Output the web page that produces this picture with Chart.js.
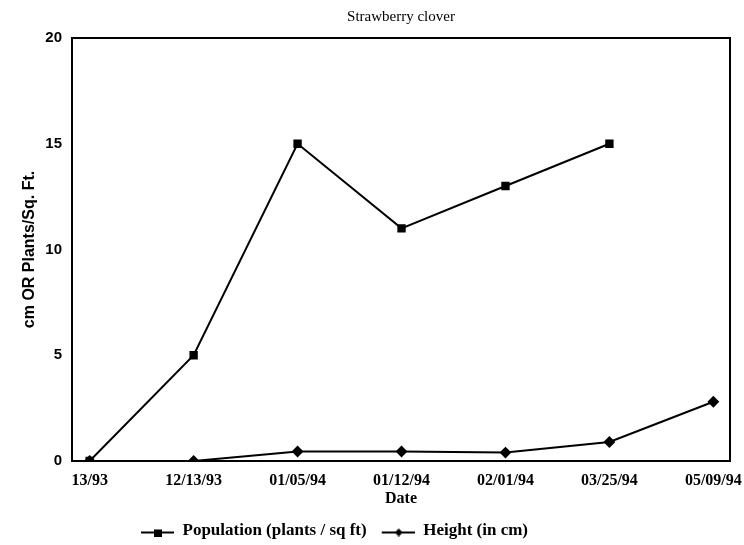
<!DOCTYPE html>
<html>
<head>
<meta charset="utf-8">
<script src="https://cdn.jsdelivr.net/npm/chart.js@4.4.0/dist/chart.umd.min.js"></script>
<style>
html,body{margin:0;padding:0;background:#fff;}
#wrap{width:744px;height:545px;}
</style>
</head>
<body>
<div id="wrap"><canvas id="c" width="744" height="545"></canvas></div>
<script>
const dateLabels = ["13/93", "12/13/93", "01/05/94", "01/12/94", "02/01/94", "03/25/94", "05/09/94"];
const population = [0, 5, 15, 11, 13, 15, null];
const height = [0, 0, 0.45, 0.45, 0.4, 0.9, 2.8];
const yTicks = [0, 5, 10, 15, 20];

function legendIcon(kind) {
  const c = document.createElement('canvas');
  c.width = 40; c.height = 12;
  const g = c.getContext('2d');
  g.strokeStyle = '#000'; g.fillStyle = '#000';
  g.lineWidth = 2;
  g.beginPath(); g.moveTo(7, 8); g.lineTo(40, 8); g.stroke();
  if (kind === 'rect') { g.fillRect(20, 5, 8, 7); }
  else { g.beginPath(); g.moveTo(24, 4); g.lineTo(28, 8); g.lineTo(24, 12); g.lineTo(20, 8); g.closePath(); g.fill(); }
  return c;
}

const boxPlugin = {
  id: 'box',
  afterLayout(chart) {
    if (chart.legend) { chart.legend.right = chart.legend.right - 68; }
  },
  afterDraw(chart) {
    const a = chart.chartArea, g = chart.ctx;
    g.save();
    g.strokeStyle = '#000'; g.lineWidth = 2;
    g.strokeRect(a.left, a.top, a.right - a.left, a.bottom - a.top);
    g.restore();
  }
};

new Chart(document.getElementById('c'), {
  type: 'line',
  data: {
    datasets: [
      {
        label: 'Population (plants / sq ft)',
        data: population.map((v, i) => ({x: i, y: v})),
        borderColor: '#000', backgroundColor: '#000',
        borderWidth: 2, pointStyle: 'rect', pointRadius: 4.5,
        spanGaps: false, tension: 0
      },
      {
        label: 'Height (in cm)',
        data: height.map((v, i) => ({x: i, y: v})),
        borderColor: '#000', backgroundColor: '#000',
        borderWidth: 2, pointStyle: 'rectRot', pointRadius: 4.5,
        tension: 0
      }
    ]
  },
  options: {
    responsive: false,
    animation: false,
    layout: {padding: {left: 0, right: 14, top: 0, bottom: -4}},
    plugins: {
      title: {
        display: true, text: 'Strawberry clover', color: '#000',
        fullSize: false,
        font: {family: 'Liberation Serif', size: 15, weight: 'normal'},
        padding: {top: 8, bottom: 12}
      },
      legend: {
        position: 'bottom',
        labels: {
          color: '#000',
          font: {family: 'Liberation Serif', size: 17, weight: 'bold'},
          usePointStyle: true,
          pointStyleWidth: 40,
          padding: 8,
          generateLabels(chart) {
            return chart.data.datasets.map((d, i) => ({
              text: d.label,
              pointStyle: legendIcon(i === 0 ? 'rect' : 'diamond'),
              fillStyle: '#000', strokeStyle: '#000', lineWidth: 0,
              fontColor: '#000', datasetIndex: i, hidden: false
            }));
          }
        }
      },
      tooltip: {enabled: false}
    },
    scales: {
      x: {
        type: 'linear', min: -0.17, max: 6.16,
        grid: {display: false, drawTicks: false},
        border: {display: true, color: '#000', width: 2},
        afterBuildTicks(s) { s.ticks = dateLabels.map((_, i) => ({value: i})); },
        afterFit(s) { s.paddingLeft = 0; s.paddingRight = 0; s.height = 53; },
        ticks: {
          color: '#000', padding: 12, maxRotation: 0, autoSkip: false,
          font: {family: 'Liberation Serif', size: 16, weight: 'bold', lineHeight: 1},
          callback(v) { return dateLabels[v]; }
        },
        title: {
          display: true, text: 'Date', color: '#000',
          font: {family: 'Liberation Serif', size: 16, weight: 'bold', lineHeight: 1},
          padding: {top: 0, bottom: 7}
        }
      },
      y: {
        min: 0, max: 20,
        grid: {display: false, drawTicks: false},
        border: {display: true, color: '#000', width: 2},
        afterBuildTicks(s) { s.ticks = yTicks.map(v => ({value: v})); },
        afterFit(s) { s.width = 72; },
        ticks: {
          color: '#000', padding: 10,
          font: {family: 'Liberation Sans', size: 15, weight: 'bold'}
        },
        title: {
          display: true, text: 'cm OR Plants/Sq. Ft.', color: '#000',
          font: {family: 'Liberation Sans', size: 16, weight: 'bold'},
          padding: {top: 20, bottom: 0}
        }
      }
    }
  },
  plugins: [boxPlugin]
});
</script>
</body>
</html>
